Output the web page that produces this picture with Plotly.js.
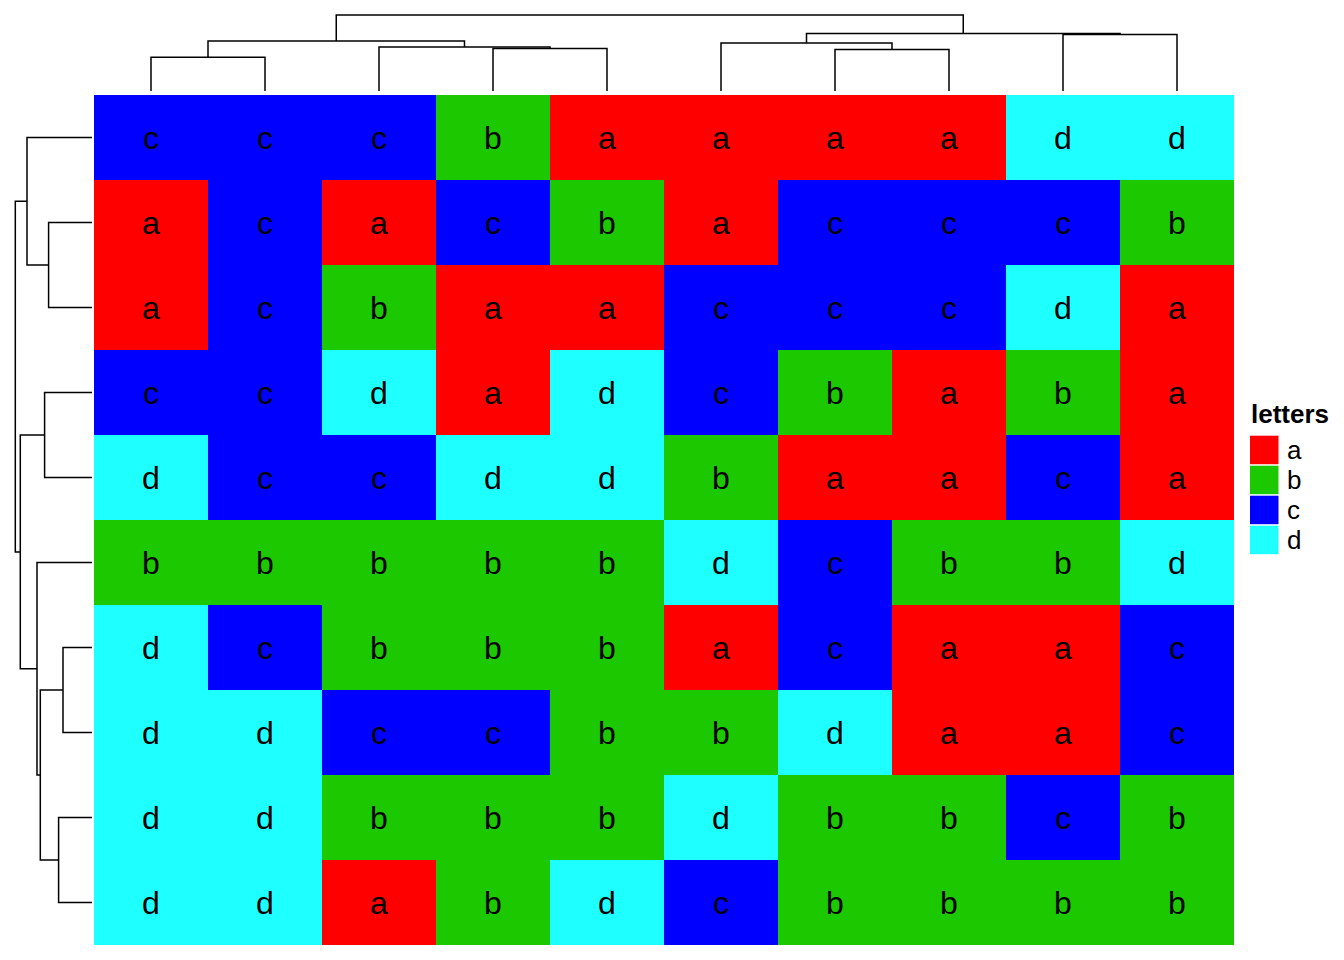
<!DOCTYPE html>
<html>
<head>
<meta charset="utf-8">
<script src="https://cdn.plot.ly/plotly-3.0.1.min.js"></script>
<style>html,body{margin:0;padding:0;background:#fff;}#chart{width:1344px;height:960px;}</style>
</head>
<body>
<div id="chart"></div>
<script>
// ---- data ----
const letterLevels = ['a', 'b', 'c', 'd'];
const letterColors = ['#FF0000', '#1CC800', '#0000FF', '#1EFFFF'];
const legendTitle = 'letters';

// cell letters, rows top to bottom, columns left to right (dendrogram order)
const cellLetters = [
  ['c','c','c','b','a','a','a','a','d','d'],
  ['a','c','a','c','b','a','c','c','c','b'],
  ['a','c','b','a','a','c','c','c','d','a'],
  ['c','c','d','a','d','c','b','a','b','a'],
  ['d','c','c','d','d','b','a','a','c','a'],
  ['b','b','b','b','b','d','c','b','b','d'],
  ['d','c','b','b','b','a','c','a','a','c'],
  ['d','d','c','c','b','b','d','a','a','c'],
  ['d','d','b','b','b','d','b','b','c','b'],
  ['d','d','a','b','d','c','b','b','b','b']
];

// column dendrogram (hclust-style merges; negative = leaf position, 1-based)
const colMerge = [[-1,-2],[-4,-5],[-3,2],[1,3],[-7,-8],[-6,5],[-9,-10],[6,7],[4,8]];
const colHeight = [33.7, 42.4, 44.0, 50.0, 41.4, 48.0, 56.4, 57.4, 76.0];

// row dendrogram
const rowMerge = [[-2,-3],[-1,1],[-4,-5],[-7,-8],[-9,-10],[4,5],[-6,6],[3,7],[2,8]];
const rowHeight = [43.4, 65.0, 47.4, 29.0, 33.4, 51.7, 55.0, 71.7, 76.7];

// ---- build ----
const nRows = cellLetters.length;
const nCols = cellLetters[0].length;
const colPos = Array.from({length: nCols}, (_, i) => i);
const rowPos = Array.from({length: nRows}, (_, i) => i);
const zCodes = cellLetters.map(r => r.map(v => letterLevels.indexOf(v)));

// text positions derived from the grid
const txtX = [], txtY = [], txtS = [];
rowPos.forEach(r => colPos.forEach(c => { txtX.push(c); txtY.push(r); txtS.push(cellLetters[r][c]); }));

function stepScale(colors) {
  const n = colors.length, cs = [];
  colors.forEach((c, i) => {
    cs.push([i / n, c]);
    cs.push([(i + 1) / n, c]);
  });
  return cs;
}

function dendroSegments(merge, heights) {
  const nodePos = [], nodeH = [];
  const pos = k => k < 0 ? (-k - 1) : nodePos[k - 1];
  const hh = k => k < 0 ? 0 : nodeH[k - 1];
  const p = [], h = [];
  merge.forEach((m, i) => {
    const p1 = pos(m[0]), p2 = pos(m[1]);
    const h1 = hh(m[0]), h2 = hh(m[1]);
    const H = heights[i];
    nodePos.push((p1 + p2) / 2);
    nodeH.push(H);
    p.push(p1, p1, p2, p2, null);
    h.push(h1, H, H, h2, null);
  });
  return {p, h};
}

const colD = dendroSegments(colMerge, colHeight);
const rowD = dendroSegments(rowMerge, rowHeight);

const W = 1344, Hh = 960;
const hx0 = 94, hx1 = 1234, hy0 = 95, hy1 = 945;
const xDom = [hx0 / W, hx1 / W];
const yDom = [1 - hy1 / Hh, 1 - hy0 / Hh];
const txtShift = 3.5 / Hh; // baseline correction for cell labels
const yDomTxt = [yDom[0] - txtShift, yDom[1] - txtShift];

const FONT = 'Liberation Sans, Arial, Helvetica, sans-serif';

const traces = [
  {
    type: 'heatmap',
    x: colPos, y: rowPos, z: zCodes,
    colorscale: stepScale(letterColors),
    zmin: -0.5, zmax: letterLevels.length - 0.5,
    showscale: false, hoverinfo: 'skip',
    xaxis: 'x', yaxis: 'y'
  },
  {
    type: 'scatter', mode: 'text',
    x: txtX, y: txtY, text: txtS,
    textposition: 'middle center',
    textfont: {family: FONT, size: 32, color: '#000000'},
    hoverinfo: 'skip', cliponaxis: false,
    xaxis: 'x4', yaxis: 'y4'
  },
  {
    type: 'scatter', mode: 'lines',
    x: colD.p, y: colD.h,
    line: {color: '#000000', width: 1.5},
    hoverinfo: 'skip', cliponaxis: false,
    xaxis: 'x2', yaxis: 'y2'
  },
  {
    type: 'scatter', mode: 'lines',
    x: rowD.h, y: rowD.p,
    line: {color: '#000000', width: 1.5},
    hoverinfo: 'skip', cliponaxis: false,
    xaxis: 'x3', yaxis: 'y3'
  }
];

const hidden = {visible: false, showgrid: false, zeroline: false, fixedrange: true};

const shapes = [], annotations = [];
annotations.push({
  xref: 'paper', yref: 'paper', x: 1249 / W, y: 1 - 414 / Hh,
  xanchor: 'left', yanchor: 'middle', showarrow: false,
  text: '<b>' + legendTitle + '</b>',
  font: {family: FONT, size: 26, color: '#000000'}
});
letterLevels.forEach((lv, i) => {
  const top = 435.7 + 30 * i, bot = top + 28.5;
  shapes.push({
    type: 'rect', xref: 'paper', yref: 'paper',
    x0: 1250 / W, x1: 1278.5 / W, y0: 1 - bot / Hh, y1: 1 - top / Hh,
    fillcolor: letterColors[i], line: {width: 0}
  });
  annotations.push({
    xref: 'paper', yref: 'paper', x: 1285 / W, y: 1 - (top + 14.25) / Hh,
    xanchor: 'left', yanchor: 'middle', showarrow: false,
    text: lv, font: {family: FONT, size: 26, color: '#000000'}
  });
});

const layout = {
  width: W, height: Hh,
  margin: {l: 0, r: 0, t: 0, b: 0, pad: 0},
  paper_bgcolor: '#ffffff', plot_bgcolor: 'rgba(0,0,0,0)',
  showlegend: false,
  xaxis: Object.assign({domain: xDom, range: [-0.5, nCols - 0.5], anchor: 'y'}, hidden),
  yaxis: Object.assign({domain: yDom, range: [nRows - 0.5, -0.5], anchor: 'x'}, hidden),
  xaxis2: Object.assign({domain: xDom, range: [-0.5, nCols - 0.5], anchor: 'y2'}, hidden),
  yaxis2: Object.assign({domain: [1 - 91 / Hh, 1], range: [0, 91], anchor: 'x2'}, hidden),
  xaxis3: Object.assign({domain: [0, 92 / W], range: [92, 0], anchor: 'y3'}, hidden),
  yaxis3: Object.assign({domain: yDom, range: [nRows - 0.5, -0.5], anchor: 'x3'}, hidden),
  xaxis4: Object.assign({domain: xDom, range: [-0.5, nCols - 0.5], anchor: 'y4'}, hidden),
  yaxis4: Object.assign({domain: yDomTxt, range: [nRows - 0.5, -0.5], anchor: 'x4'}, hidden),
  shapes: shapes,
  annotations: annotations
};

Plotly.newPlot('chart', traces, layout, {staticPlot: true, displayModeBar: false});
</script>
</body>
</html>
